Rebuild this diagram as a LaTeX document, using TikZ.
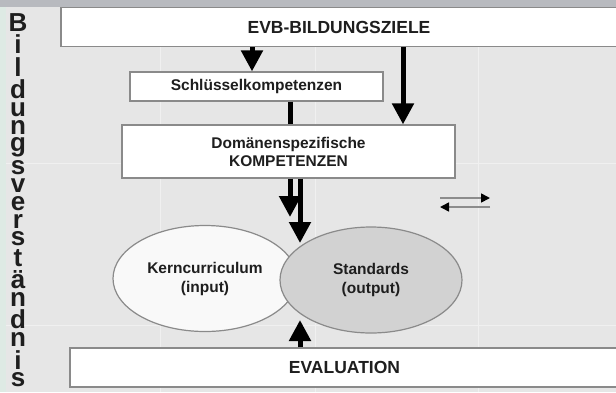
\documentclass[tikz,border=0pt]{standalone}
\usepackage{fontspec}
\setmainfont{Liberation Sans}
\usetikzlibrary{arrows.meta,shapes.geometric}
\definecolor{evbBack}{RGB}{230,230,230}
\definecolor{evbBand}{RGB}{184,186,191}
\definecolor{evbStrip}{RGB}{222,234,228}
\definecolor{evbTile}{RGB}{240,240,240}
\definecolor{evbEdge}{RGB}{138,138,138}
\definecolor{evbInk}{RGB}{30,30,30}
\definecolor{evbGrey}{RGB}{210,210,210}
\definecolor{evbPale}{RGB}{249,249,249}

\begin{document}
\begin{tikzpicture}[x=1pt,y=-1pt,
  box/.style={draw=evbEdge, line width=1.2pt, fill=white, text=evbInk, align=center, inner sep=0pt,
    font=\bfseries\fontsize{15.5}{18}\selectfont},
  bigbox/.style={box, font=\bfseries\fontsize{17.5}{20}\selectfont},
  oval/.style={ellipse, draw=evbEdge, line width=1.2pt, text=evbInk, align=center, inner sep=0pt,
    minimum width=184pt, minimum height=106pt, font=\bfseries\fontsize{15.5}{19}\selectfont},
  stacked/.style={text=evbInk, inner sep=0pt, align=center, font=\bfseries\fontsize{26}{1}\selectfont},
  flow/.style={line width=5pt, black},
  bigarrow/.style={flow, -{Triangle[width=21pt,length=21pt]}},
  thinarrow/.style={line width=1.6pt, black!45, -{Triangle[width=9pt,length=9pt,color=black]}}]
\useasboundingbox (0,0) rectangle (616,392);
% background with faint tiles
\fill[evbBack] (0,0) rectangle (616,392);
\fill[evbStrip] (0,7) rectangle (6,392);
\foreach \tx in {160,315,478}
  \draw[evbTile, line width=1pt] (\tx,7) -- (\tx,392);
\foreach \ty in {163,325}
  \draw[evbTile, line width=1pt] (6,\ty) -- (616,\ty);
\fill[evbBand] (0,0) rectangle (616,7);

% vertical word, letters packed by their own heights
\lineskip=3.65pt \lineskiplimit=0pt
\node[stacked, anchor=north] (word) at (18,13)
  {B\\i\\l\\d\\u\\n\\g\\s\\v\\e\\r\\s\\t\\ä\\n\\d\\n\\i\\s};

% boxes
\node[bigbox, minimum width=556pt, minimum height=39pt] (goals) at (339,27) {EVB-BILDUNGSZIELE};
\node[box, minimum width=253pt, minimum height=29pt] (keys) at (256.5,86.5) {Schlüsselkompetenzen};
\node[box, minimum width=333pt, minimum height=53pt] (domain) at (288.5,151.5) {Domänenspezifische\\KOMPETENZEN};
\node[oval, fill=evbPale] (core) at (205,278.5) {Kerncurriculum\\(input)};
\node[oval, fill=evbGrey, minimum width=182pt] (std) at (371,280) {Standards\\(output)};
\node[bigbox, minimum width=549pt, minimum height=39pt] (eval) at (344.5,367.5) {EVALUATION};

\coordinate (halt) at (290,217);
\coordinate (meet) at (300,243);
\coordinate (rise) at (300,320);
\coordinate (fwdA) at (440,198);
\coordinate (fwdB) at (490,198);
\coordinate (backA) at (490,207);
\coordinate (backB) at (440,207);

% connectors
\draw[bigarrow] (goals.south -| 252,0) -- (keys.north -| 252,0);
\draw[bigarrow] (goals.south -| 403,0) -- (domain.north -| 403,0);
\draw[flow] (keys.south -| 290,0) -- (domain.north -| 290,0);
\draw[bigarrow] (domain.south -| halt) -- (halt);
\draw[bigarrow] (domain.south -| meet) -- (meet);
\draw[bigarrow] (eval.north -| rise) -- (rise);
\draw[thinarrow] (fwdA) -- (fwdB);
\draw[thinarrow] (backA) -- (backB);
\end{tikzpicture}
\end{document}
